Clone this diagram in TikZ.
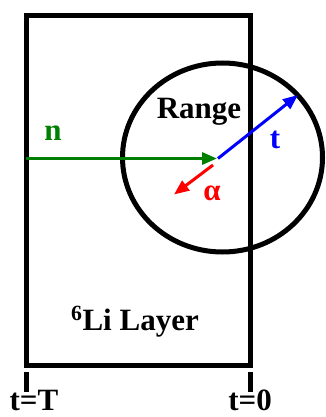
\documentclass[tikz,border=0pt]{standalone}
\usepackage{fontspec}
\setmainfont{Liberation Serif}
\usepackage{tikz}
\usetikzlibrary{arrows.meta}

\begin{document}
\begin{tikzpicture}[
    x=1pt, y=-1pt,
    wall/.style={line width=5pt},
    track/.style={line width=3pt, -{Triangle[length=15pt,width=12pt]}},
    lbl/.style={font=\fontsize{31}{31}\selectfont\bfseries, anchor=base, inner sep=0pt},
]
\useasboundingbox (0,0) rectangle (325,417);

% Li layer
\draw[wall] (26,15.5) rectangle (250,365.5);
\node[lbl] (layer) at (135,330) {\textsuperscript{6}Li Layer};

% Range of the products
\draw[wall] (222.5,157.5) ellipse [x radius=100, y radius=94.5];
\node[lbl] (range) at (199,118) {Range};

% Tracks
\coordinate (nin) at (26,158.5);
\coordinate (cap) at (217,158.5);
\draw[track, green!50!black] (nin) -- (cap);
\node[lbl, green!50!black] (nlbl) at (53,140) {n};

\coordinate (tstart) at (218,158.5);
\coordinate (tend) at (298,95);
\draw[track, blue] (tstart) -- (tend);
\node[lbl, blue] (tlbl) at (275,148) {t};

\coordinate (astart) at (213,165);
\coordinate (aend) at (174,194.5);
\draw[track, red] (astart) -- (aend);
\node[lbl, red] (albl) at (212,200) {α};

% Time marks
\draw[wall] (26,372) -- (26,392);
\draw[wall] (250,372) -- (250,392);
\node[lbl] (tT) at (34,410) {t=T};
\node[lbl] (t0) at (250,410) {t=0};
\end{tikzpicture}
\end{document}
